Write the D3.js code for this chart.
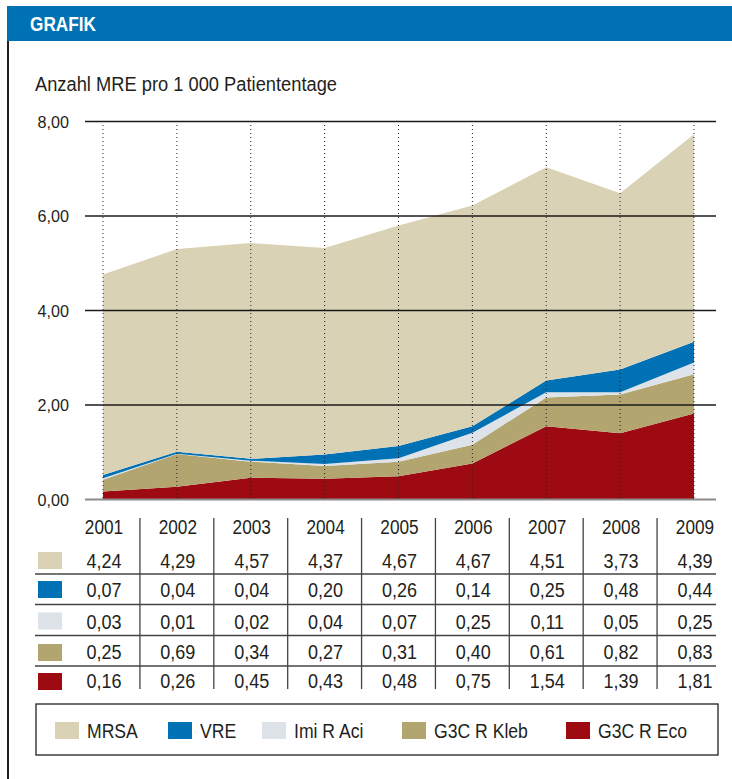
<!DOCTYPE html>
<html>
<head>
<meta charset="utf-8">
<script src="https://cdn.jsdelivr.net/npm/d3@7"></script>
<style>
  body { margin: 0; background: #fff; }
  svg text { font-family: "Liberation Sans", Arial, sans-serif; fill: #231f20; }
</style>
</head>
<body>
<svg id="chart" width="732" height="779"></svg>
<script>
// Data
const years = [2001, 2002, 2003, 2004, 2005, 2006, 2007, 2008, 2009];
const mrsa  = [4.24, 4.29, 4.57, 4.37, 4.67, 4.67, 4.51, 3.73, 4.39];
const vre   = [0.07, 0.04, 0.04, 0.20, 0.26, 0.14, 0.25, 0.48, 0.44];
const imi   = [0.03, 0.01, 0.02, 0.04, 0.07, 0.25, 0.11, 0.05, 0.25];
const kleb  = [0.25, 0.69, 0.34, 0.27, 0.31, 0.40, 0.61, 0.82, 0.83];
const eco   = [0.16, 0.26, 0.45, 0.43, 0.48, 0.75, 1.54, 1.39, 1.81];
const yTicks = [0, 2, 4, 6, 8];

const series = [
  { key: "MRSA",        values: mrsa, color: "#d9d2b5" },
  { key: "VRE",         values: vre,  color: "#0071b4" },
  { key: "Imi R Aci",   values: imi,  color: "#dde3e8" },
  { key: "G3C R Kleb",  values: kleb, color: "#b2a570" },
  { key: "G3C R Eco",   values: eco,  color: "#9e0a12" }
];

const svg = d3.select("#chart");
const fmt = v => d3.format(".2f")(v).replace(".", ",");

// squeeze text horizontally, the original uses a condensed face
function condense(sel, k) {
  sel.each(function () {
    const w = this.getComputedTextLength();
    d3.select(this).attr("textLength", w * k).attr("lengthAdjust", "spacingAndGlyphs");
  });
}

// Header bar
svg.append("rect").attr("x", 7).attr("y", 6).attr("width", 725).attr("height", 35).attr("fill", "#0071b3");
svg.append("text").attr("x", 30).attr("y", 31).text("GRAFIK")
   .attr("textLength", 66).attr("lengthAdjust", "spacingAndGlyphs")
   .style("fill", "#fff").style("font-weight", "bold").style("font-size", "19.5px");
svg.append("line").attr("x1", 8).attr("x2", 8).attr("y1", 41).attr("y2", 779)
   .attr("stroke", "#231f20").attr("stroke-width", 2);

svg.append("text").attr("x", 35).attr("y", 90.5).style("font-size", "20px")
   .attr("textLength", 302).attr("lengthAdjust", "spacingAndGlyphs")
   .text("Anzahl MRE pro 1 000 Patiententage");

// Scales
const x = d3.scaleLinear().domain([2001, 2009]).range([103, 694]);
const y = d3.scaleLinear().domain([0, 8]).range([499, 121]);

// Stacked areas (bottom: Eco ... top: MRSA)
const rows = years.map((yr, i) => {
  const r = { year: yr };
  series.forEach(s => r[s.key] = s.values[i]);
  return r;
});
const stackKeys = series.map(s => s.key).reverse();
const stacked = d3.stack().keys(stackKeys)(rows);
const colorOf = d3.scaleOrdinal().domain(series.map(s => s.key)).range(series.map(s => s.color));

const area = d3.area()
  .x(d => x(d.data.year))
  .y0(d => y(d[0]))
  .y1(d => y(d[1]));

svg.append("g").selectAll("path")
  .data(stacked)
  .join("path")
  .attr("d", area)
  .attr("fill", d => colorOf(d.key));

// Vertical dotted lines
svg.append("g").selectAll("line")
  .data(years)
  .join("line")
  .attr("x1", d => x(d)).attr("x2", d => x(d))
  .attr("y1", y(8)).attr("y2", y(0))
  .attr("stroke", "#231f20").attr("stroke-width", 1)
  .attr("stroke-dasharray", "1,3");

// Horizontal grid lines + y labels
const yAxis = d3.axisLeft(y)
  .tickValues(yTicks)
  .tickSize(-(716 - 85))
  .tickPadding(16)
  .tickFormat(fmt);

const gy = svg.append("g").attr("transform", "translate(85,0)").call(yAxis);
gy.select(".domain").remove();
gy.selectAll(".tick line")
  .attr("stroke", d => d === 0 ? "#8a8a8a" : "#1a1a1a")
  .attr("stroke-width", d => d === 0 ? 2 : 1.4);
gy.selectAll(".tick text").style("font-size", "17px").style("fill", "#231f20").attr("dy", "0.36em");
condense(gy.selectAll(".tick text"), 0.95);

// Table
const tableTop = 518;
const tableLeft = 35, tableRight = 716;

const gt = svg.append("g");
// year labels
gt.selectAll("text.year")
  .data(years)
  .join("text")
  .attr("class", "year")
  .attr("x", d => x(d) + 1)
  .attr("y", 534)
  .attr("text-anchor", "middle")
  .style("font-size", "20.5px")
  .text(d => d)
  .call(condense, 0.84);

// column separators
gt.selectAll("line.sep")
  .data(years.slice(0, -1))
  .join("line")
  .attr("class", "sep")
  .attr("x1", d => x(d + 0.5)).attr("x2", d => x(d + 0.5))
  .attr("y1", tableTop).attr("y2", 689)
  .attr("stroke", "#444").attr("stroke-width", 1.3);

// row separators
const rowLineYs = [574, 604.5, 635.5, 666];
gt.selectAll("line.rowsep")
  .data(rowLineYs)
  .join("line")
  .attr("class", "rowsep")
  .attr("x1", tableLeft).attr("x2", tableRight)
  .attr("y1", d => d).attr("y2", d => d)
  .attr("stroke", "#444").attr("stroke-width", 1.3);

const rowCenters = [560.5, 589.5, 621, 652.5, 681.5];
const rowBase = [568, 597, 629, 659, 688];
series.forEach((s, ri) => {
  const cy = rowCenters[ri];
  gt.append("rect").attr("x", 38).attr("y", cy - 8.5).attr("width", 24).attr("height", 17).attr("fill", s.color);
  gt.selectAll("text.v" + ri)
    .data(s.values)
    .join("text")
    .attr("class", "v" + ri)
    .attr("x", (d, i) => x(years[i]) + 1)
    .attr("y", rowBase[ri])
    .attr("text-anchor", "middle")
    .style("font-size", "20px")
    .text(d => fmt(d))
    .call(condense, 0.9);
});

// Legend
svg.append("rect").attr("x", 36).attr("y", 704).attr("width", 682).attr("height", 51)
   .attr("fill", "none").attr("stroke", "#231f20").attr("stroke-width", 1.3);
const legendX = [55, 168, 262, 402, 566];
const gl = svg.append("g").selectAll("g")
  .data(series)
  .join("g")
  .attr("transform", (d, i) => `translate(${legendX[i]},730.5)`);
gl.append("rect").attr("x", 0).attr("y", -8.5).attr("width", 24).attr("height", 17).attr("fill", d => d.color);
gl.append("text").attr("x", 32).attr("y", 7.5).style("font-size", "20px").text(d => d.key)
  .call(condense, 0.88);
</script>
</body>
</html>
